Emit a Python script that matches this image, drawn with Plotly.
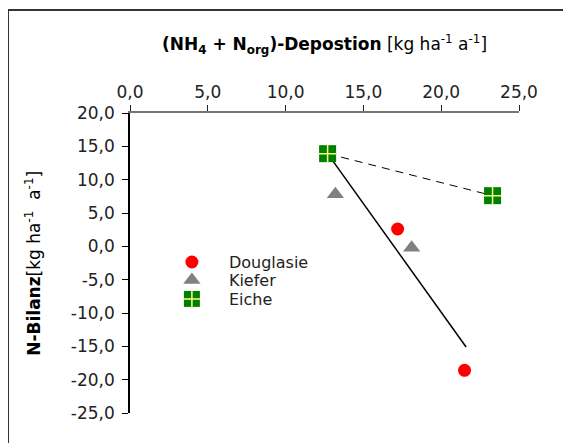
import plotly.graph_objects as go

# Data
douglasie_x = [17.2, 21.5]
douglasie_y = [2.6, -18.6]
kiefer_x = [13.2, 18.1]
kiefer_y = [7.8, -0.2]
eiche_x = [12.7, 23.3]
eiche_y = [13.9, 7.6]
trend_solid_x = [12.7, 21.6]
trend_solid_y = [13.9, -15.1]
trend_dash_x = [12.7, 23.3]
trend_dash_y = [13.9, 7.6]

x_ticks = [0, 5, 10, 15, 20, 25]
x_tick_labels = ["0,0", "5,0", "10,0", "15,0", "20,0", "25,0"]
y_ticks = [20, 15, 10, 5, 0, -5, -10, -15, -20, -25]
y_tick_labels = ["20,0", "15,0", "10,0", "5,0", "0,0", "-5,0", "-10,0", "-15,0", "-20,0", "-25,0"]

FONT = "DejaVu Sans"

fig = go.Figure()
fig.add_trace(go.Scatter(x=trend_solid_x, y=trend_solid_y, mode="lines",
                         line=dict(color="black", width=1.5), showlegend=False, hoverinfo="skip"))
fig.add_trace(go.Scatter(x=trend_dash_x, y=trend_dash_y, mode="lines",
                         line=dict(color="black", width=1, dash="8px,6px"), showlegend=False, hoverinfo="skip"))
fig.add_trace(go.Scatter(x=douglasie_x, y=douglasie_y, mode="markers", name="Douglasie", legend="legend",
                         marker=dict(symbol="circle", size=13, color="#ff0000", line=dict(width=0))))
fig.add_trace(go.Scatter(x=kiefer_x, y=kiefer_y, mode="markers", name="Kiefer", legend="legend2",
                         marker=dict(symbol="triangle-up", size=15, color="#808080", line=dict(width=0))))
fig.add_trace(go.Scatter(x=eiche_x, y=eiche_y, mode="markers", name="Eiche", legend="legend3",
                         marker=dict(symbol="square", size=17, color="#008000", line=dict(width=0))))
fig.add_trace(go.Scatter(x=eiche_x, y=eiche_y, mode="markers", name="Eiche", legend="legend4", hoverinfo="skip",
                         marker=dict(symbol="cross-thin", size=13, color="#ffff80",
                                     line=dict(width=1.5, color="#ffff80"))))

leg_common = dict(x=0.064, xanchor="left", yanchor="middle", bgcolor="rgba(0,0,0,0)",
                  itemwidth=64, borderwidth=0)
leg_font = dict(family=FONT, size=16, color="#222")

fig.update_layout(
    width=571, height=443,
    margin=dict(l=122, r=60, t=105, b=38),
    paper_bgcolor="white", plot_bgcolor="white",
    font=dict(family=FONT, size=17, color="#222"),
    showlegend=True,
    legend=dict(y=0.503, font=leg_font, **leg_common),
    legend2=dict(y=0.443, font=leg_font, **leg_common),
    legend3=dict(y=0.38, font=leg_font, **leg_common),
    legend4=dict(y=0.38, font=dict(family=FONT, size=16, color="rgba(0,0,0,0)"), **leg_common),
    xaxis=dict(range=[0, 25], side="top", tickvals=x_ticks, ticktext=x_tick_labels,
               showline=True, linecolor="#777", linewidth=2, ticks="outside", ticklen=6,
               tickcolor="#222", showgrid=False, zeroline=False),
    yaxis=dict(range=[-25, 20], tickvals=y_ticks, ticktext=y_tick_labels,
               showline=True, linecolor="black", linewidth=1.5, ticks="outside", ticklen=6,
               tickcolor="black", showgrid=False, zeroline=False, ticklabelstandoff=4),
    shapes=[dict(type="rect", xref="paper", yref="paper", x0=-0.3136, x1=1.3, y0=-0.3, y1=1.343,
                 line=dict(color="#333", width=2), fillcolor="rgba(0,0,0,0)", layer="below")],
    annotations=[
        dict(text="<b>(NH<sub>4</sub> + N<sub>org</sub>)-Depostion</b> [kg ha<sup>-1</sup> a<sup>-1</sup>]",
             xref="paper", yref="paper", x=0.501, y=1.227, xanchor="center", yanchor="middle",
             showarrow=False, font=dict(family=FONT, size=17, color="black")),
        dict(text="<b>N-Bilanz</b>[kg ha<sup>-1</sup>  a<sup>-1</sup>]",
             xref="paper", yref="paper", x=-0.25, y=0.5, xanchor="center", yanchor="middle",
             textangle=-90, showarrow=False, font=dict(family=FONT, size=17, color="black")),
    ],
)

fig.write_html("out.html")
